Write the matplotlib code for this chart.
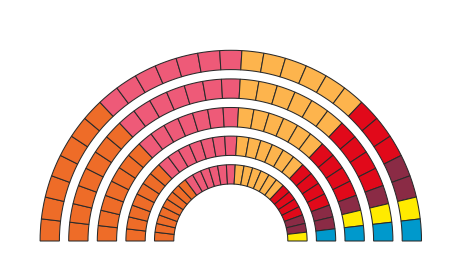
import matplotlib
matplotlib.use("Agg")
import matplotlib.pyplot as plt
from matplotlib.patches import Wedge

# seats per party (sorted by angle, left to right)
parties = ["Party A", "Party B", "Party C", "Party D", "Party E", "Party F", "Party G"]
seats = [36, 34, 30, 19, 8, 4, 4]
colors = ["#EE6C28", "#EE5A78", "#FDB44D", "#E1091A", "#8A2B45", "#FFEB00", "#0099CC"]

# layout of the semicircle (pixels)
n_rows = 5
n_cols = 27
cx, cy = 230.8, 25.0
r_inner = 57.0
thick = 19.3
pitch = 28.6

fig = plt.figure(figsize=(4.59, 2.66), dpi=100)
ax = fig.add_axes([0, 0, 1, 1])
ax.set_xlim(0, 459)
ax.set_ylim(0, 266)
ax.axis("off")

# list of colours for every seat
seat_colors = []
for c, n in zip(colors, seats):
    seat_colors += [c] * n

step = 180.0 / n_cols
i = 0
for col in range(n_cols):
    t2 = 180.0 - col * step
    t1 = t2 - step
    for row in range(n_rows):
        r_out = r_inner + row * pitch + thick
        w = Wedge((cx, cy), r_out, t1, t2, width=thick,
                  facecolor=seat_colors[i], edgecolor="#2a2a2a", linewidth=0.75)
        ax.add_patch(w)
        i += 1

plt.savefig("out.png", dpi=100)
